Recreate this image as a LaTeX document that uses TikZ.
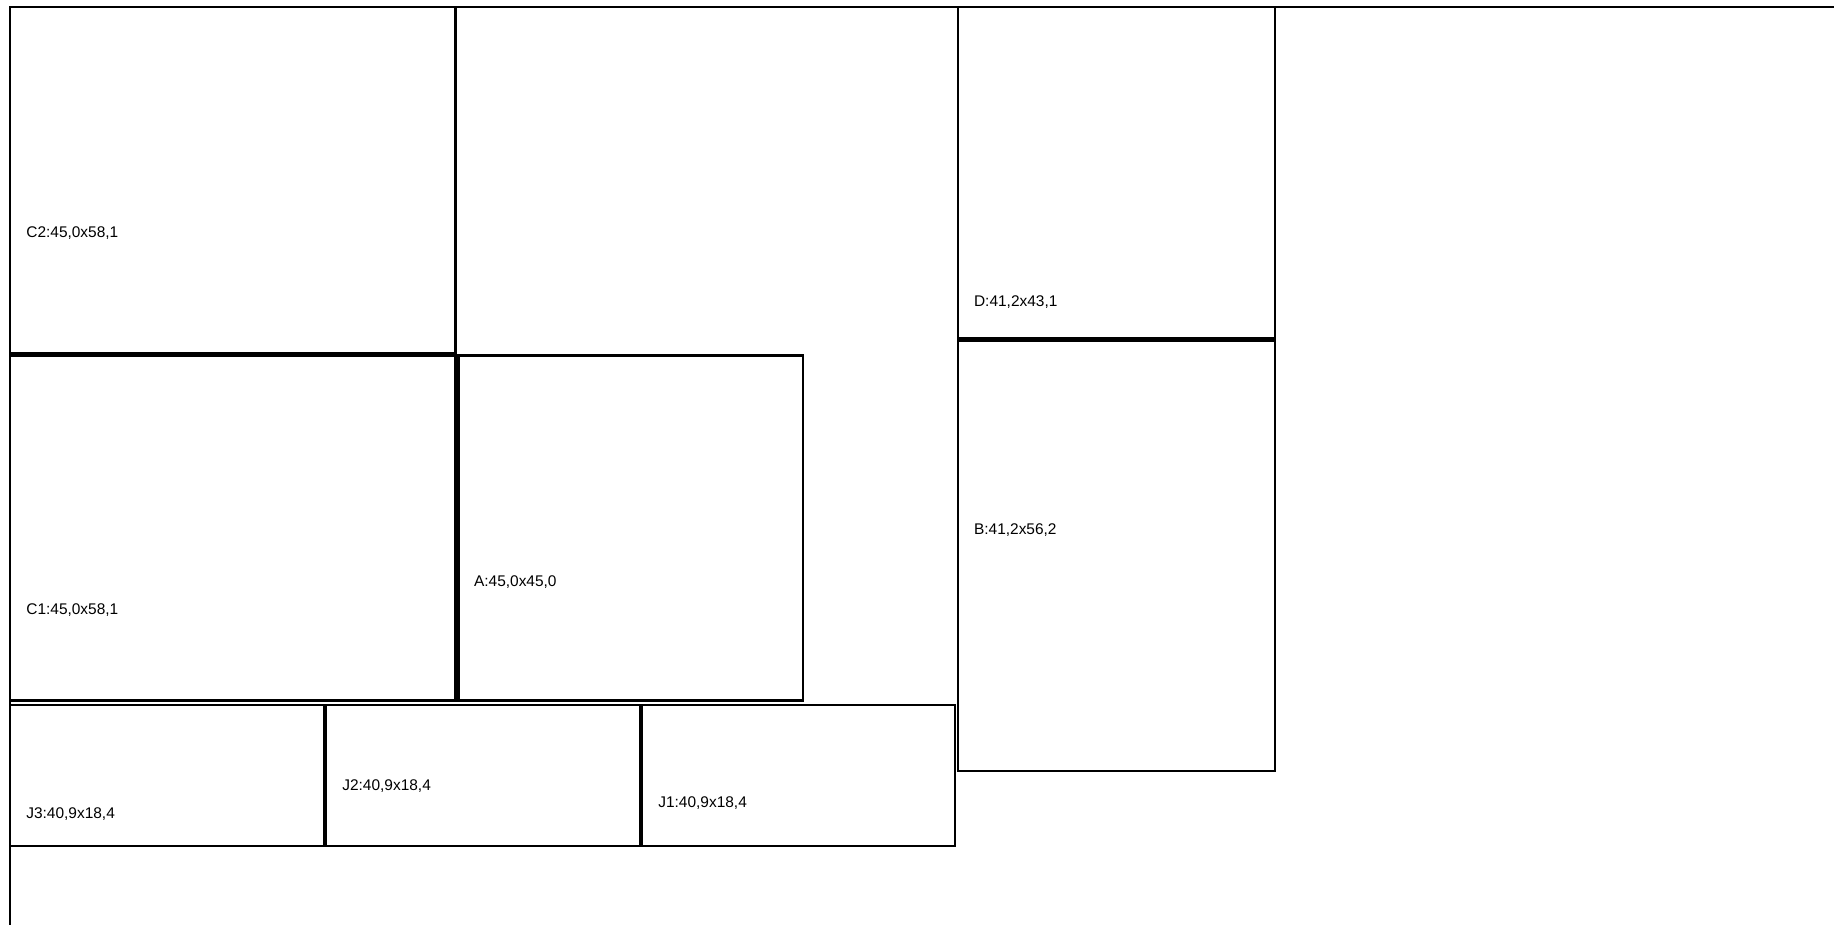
\documentclass[tikz,border=0pt]{standalone}
\usepackage{fontspec}
\setmainfont{Liberation Sans}
\usepackage{tikz}

\begin{document}
\begin{tikzpicture}[
        x=0.02cm, y=-0.02cm,
        sheet/.style={draw=black, line width=1.25pt},
        piece/.style={draw=black, line width=1.25pt},
        tag/.style={anchor=base west, inner sep=0pt, font=\fontsize{8.8}{10}\selectfont}
      ]
        \clip (0,0) rectangle (1834,924);
        \fill[white] (0,0) rectangle (1834,924);

        % stock sheet (runs off the page)
        \draw[sheet] (10.3,7) rectangle (2000,1100);

        % placed pieces
        \draw[piece] (10.3,7)     rectangle (455.5,353.5);
        \draw[piece] (10.3,355.5) rectangle (455.5,700.5);
        \draw[piece] (458.5,355.5) rectangle (803,700.5);
        \draw[piece] (958,7)      rectangle (1275,338);
        \draw[piece] (958,340.5)  rectangle (1275,771);
        \draw[piece] (10.3,705)   rectangle (324,846);
        \draw[piece] (326,705)    rectangle (640,846);
        \draw[piece] (642,705)    rectangle (955,846);

        % labels
        \node[tag] (tC2) at (26,237.3)  {C2:45,0x58,1};
        \node[tag] (tC1) at (26,614.7)  {C1:45,0x58,1};
        \node[tag] (tA)  at (473.7,586) {A:45,0x45,0};
        \node[tag] (tD)  at (973.7,306) {D:41,2x43,1};
        \node[tag] (tB)  at (973.7,534.7) {B:41,2x56,2};
        \node[tag] (tJ3) at (26,818.7)  {J3:40,9x18,4};
        \node[tag] (tJ2) at (342,790.3) {J2:40,9x18,4};
        \node[tag] (tJ1) at (658,807)   {J1:40,9x18,4};
      \end{tikzpicture}
\end{document}
